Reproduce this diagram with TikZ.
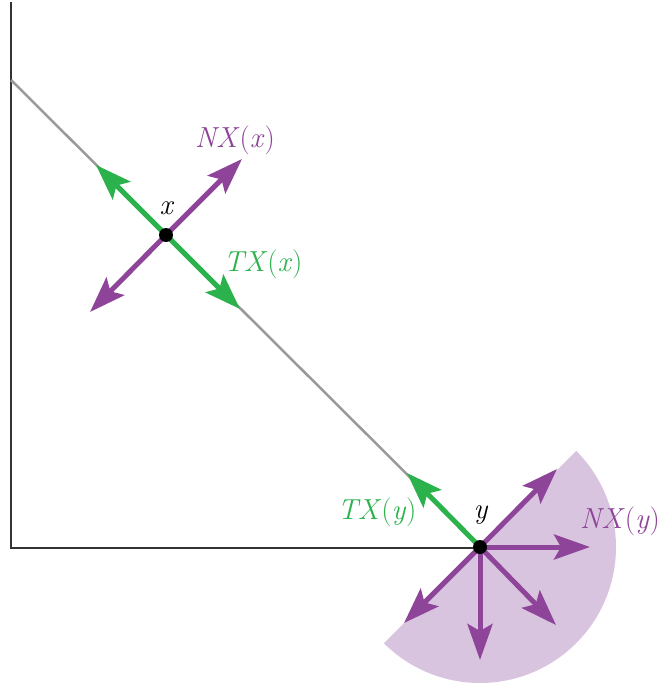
\documentclass[tikz,border=0pt]{standalone}
\usetikzlibrary{arrows.meta}
\definecolor{pur}{HTML}{8E4498}
\definecolor{grn}{HTML}{2BB24C}
\definecolor{cone}{HTML}{D9C4E0}
\definecolor{axis}{HTML}{333333}
\definecolor{seg}{HTML}{999999}
\newcommand{\lab}[2]{\textit{#1}(\textit{#2\/})}
\begin{document}
\begin{tikzpicture}[x=1pt,y=-1pt,
  vec/.style={line width=5pt,-{Stealth[length=36pt,width=25pt,inset=7pt]}},
  nvec/.style={vec,draw=pur},
  tvec/.style={vec,draw=grn},
  lbl/.style={font=\fontsize{29}{32}\selectfont,inner sep=0pt},
  pt/.style={circle,fill=black,inner sep=0pt,minimum size=14pt}]
\useasboundingbox (0,0) rectangle (658,688);
\begin{scope}
\clip (0,0) rectangle (658,688);
\fill[cone] (480,547) -- ++(135:136) arc[start angle=135,end angle=-45,radius=136] -- cycle;
\end{scope}
% axes
\coordinate (top) at (11,2);
\coordinate (orig) at (11,548);
\coordinate (A) at (11,80);
\draw[axis,line width=2pt] (top) -- (orig) -- (480,548);
\draw[seg,line width=2.5pt] (A) -- (480,547);
% point x
\coordinate (x) at (166,235);
\coordinate (tx1) at (96,165);
\coordinate (tx2) at (240,309);
\coordinate (nx1) at (242,159);
\coordinate (nx2) at (90,312);
\draw[tvec] (x) -- (tx1);
\draw[tvec] (x) -- (tx2);
\draw[nvec] (x) -- (nx1);
\draw[nvec] (x) -- (nx2);
\node[pt] (px) at (x) {};
% point y
\coordinate (y) at (480,547);
\coordinate (ty) at (407,473);
\coordinate (n1) at (557,469);
\coordinate (n2) at (590,547);
\coordinate (n3) at (556,625);
\coordinate (n4) at (480,660);
\coordinate (n5) at (404,623);
\draw[tvec] (y) -- (ty);
\foreach \p in {n1,n2,n3,n4,n5} \draw[nvec] (y) -- (\p);
\node[pt] (py) at (y) {};
% labels
\node[lbl,text=pur] (lnx) at (235,140) {\lab{NX}{x}};
\node[lbl] (lx) at (167,208) {\textit{x}};
\node[lbl,text=grn] (ltx) at (263,264) {\lab{TX}{x}};
\node[lbl,text=grn] (lty) at (377,512) {\lab{TX}{y}};
\node[lbl] (ly) at (481,515) {\textit{y}};
\node[lbl,text=pur,anchor=west] (lny) at (580,521) {\lab{NX}{y}};
\end{tikzpicture}
\end{document}
